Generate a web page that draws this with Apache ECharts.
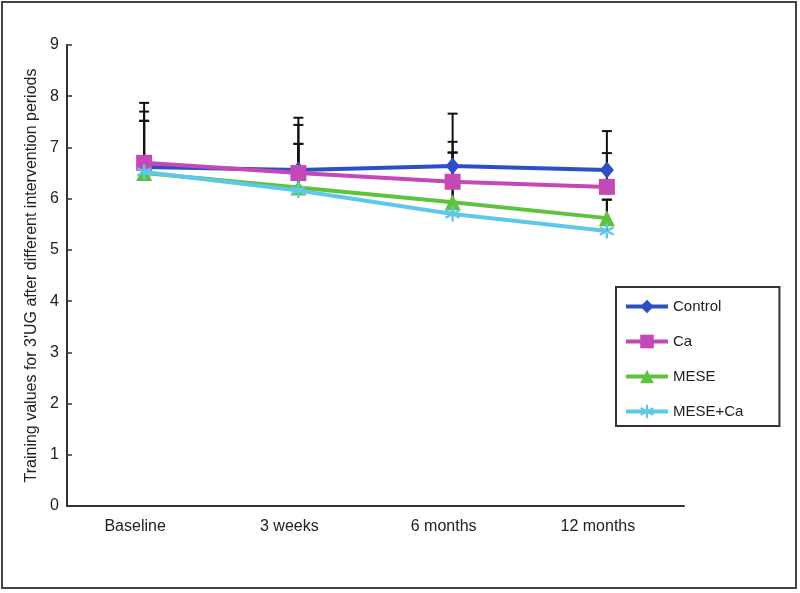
<!DOCTYPE html>
<html>
<head>
<meta charset="utf-8">
<script src="https://cdn.jsdelivr.net/npm/echarts@6/dist/echarts.min.js"></script>
<style>
  html, body { margin: 0; padding: 0; background: #fff; }
  #main { width: 800px; height: 593px; }
</style>
</head>
<body>
<div id="main"></div>
<script>
"use strict";
let periods = ['Baseline', '3 weeks', '6 months', '12 months'];
let seriesNames = ['Control', 'Ca', 'MESE', 'MESE+Ca'];
let control = [6.62, 6.56, 6.64, 6.56];
let ca = [6.70, 6.50, 6.33, 6.23];
let mese = [6.50, 6.22, 5.93, 5.62];
let meseCa = [6.52, 6.16, 5.70, 5.37];
// top of each error bar (mean + SD)
let controlTop = [7.52, 7.44, 7.66, 7.32];
let caTop = [7.87, 7.58, 7.11, 6.89];
let meseTop = [7.70, 7.07, 6.90, 5.98];
let meseCaTop = [7.52, 7.07, 6.90, 5.98];
let yTicks = [0, 1, 2, 3, 4, 5, 6, 7, 8, 9];

let colors = ['#2c50c4', '#c448b8', '#5ec23e', '#5fc8e8'];
let symbols = ['diamond', 'rect', 'triangle',
  'path://M-0.15,-1L0.15,-1L0.15,1L-0.15,1Z M0.791,0.63L0.941,0.37L-0.791,-0.63L-0.941,-0.37Z M-0.941,0.37L-0.791,0.63L0.941,-0.37L0.791,-0.63Z'];
let symbolSizes = [[14, 17], 16, 16, 15];
let means = [control, ca, mese, meseCa];
let tops = [controlTop, caTop, meseTop, meseCaTop];

const font = 'Liberation Sans, Arial, sans-serif';
let myChart = echarts.init(document.getElementById('main'));

function errorBars(values, upper) {
  let data = [];
  for (let i = 0; i < values.length; i++) {
    data.push([i, values[i], upper[i]]);
  }
  return data;
}

function renderBar(params, api) {
  let low = api.coord([api.value(0), api.value(1)]);
  let high = api.coord([api.value(0), api.value(2)]);
  let half = 5;
  let st = { stroke: '#111', lineWidth: 2 };
  return {
    type: 'group',
    children: [
      { type: 'line', shape: { x1: low[0], y1: low[1], x2: high[0], y2: high[1] }, style: st },
      { type: 'line', shape: { x1: high[0] - half, y1: high[1], x2: high[0] + half, y2: high[1] }, style: st }
    ]
  };
}

let series = [];
for (let s = 0; s < seriesNames.length; s++) {
  series.push({
    name: seriesNames[s] + '_err',
    type: 'custom',
    renderItem: renderBar,
    data: errorBars(means[s], tops[s]),
    z: 1,
    silent: true
  });
}
for (let s = 0; s < seriesNames.length; s++) {
  series.push({
    name: seriesNames[s],
    type: 'line',
    data: means[s],
    color: colors[s],
    symbol: symbols[s],
    symbolSize: symbolSizes[s],
    showAllSymbol: true,
    lineStyle: { width: 4, color: colors[s] },
    itemStyle: { color: colors[s] },
    z: 3 + s
  });
}

let option = {
  animation: false,
  backgroundColor: '#fff',
  textStyle: { fontFamily: font },
  graphic: [{
    type: 'rect',
    shape: { x: 2, y: 2, width: 794, height: 586 },
    style: { fill: 'none', stroke: '#444', lineWidth: 2 },
    z: 100
  }],
  grid: { left: 67, right: 116, top: 45, bottom: 87 },
  legend: {
    data: seriesNames,
    orient: 'vertical',
    left: 616,
    top: 287,
    itemWidth: 42,
    itemHeight: 17,
    itemGap: 20,
    padding: [12, 36, 7, 8],
    borderColor: '#333',
    borderWidth: 2,
    lineStyle: { width: 4 },
    textStyle: { fontSize: 15, color: '#222', fontFamily: font }
  },
  xAxis: {
    type: 'category',
    data: periods,
    boundaryGap: true,
    axisLine: { lineStyle: { color: '#333', width: 2 } },
    axisTick: { inside: true, length: 6, alignWithLabel: false, lineStyle: { color: '#333', width: 1.5 } },
    axisLabel: { fontSize: 16, color: '#222', margin: 13, padding: [0, 18, 0, 0] },
    splitLine: { show: false }
  },
  yAxis: {
    type: 'value',
    min: yTicks[0],
    max: yTicks[yTicks.length - 1],
    interval: 1,
    name: 'Training values for 3\'UG after different intervention periods',
    nameLocation: 'middle',
    nameGap: 23,
    nameTextStyle: { fontSize: 16, color: '#222' },
    axisLine: { show: true, lineStyle: { color: '#333', width: 2 } },
    axisTick: { show: true, inside: true, length: 5, lineStyle: { color: '#333', width: 1.5 } },
    axisLabel: { fontSize: 16, color: '#222', margin: 8 },
    splitLine: { show: false }
  },
  series: series
};
myChart.setOption(option);
</script>
</body>
</html>
